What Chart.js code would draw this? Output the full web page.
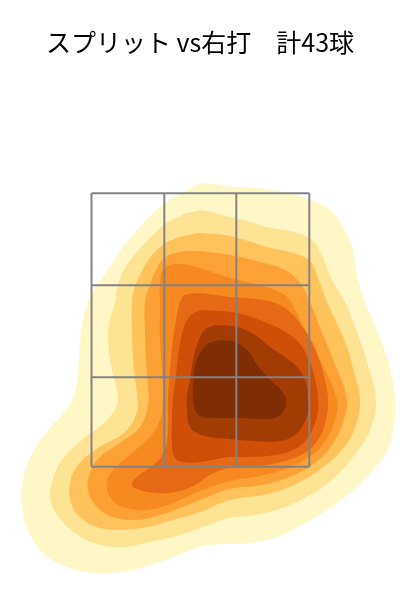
<!DOCTYPE html>
<html><head><meta charset="utf-8">
<script src="https://cdn.jsdelivr.net/npm/chart.js@4.4.1/dist/chart.umd.min.js"></script>
<style>html,body{margin:0;padding:0;background:#fff}</style>
</head><body>
<canvas id="c" width="400" height="600"></canvas>
<script>
const titleText = 'スプリット vs右打　計43球';

// density contour levels (outer -> inner), [horizontal, height]
const level1 = [[0.00,4.17],[0.15,4.16],[0.35,4.13],[0.57,4.12],[0.83,4.08],[1.10,4.00],[1.30,3.90],[1.43,3.73],[1.52,3.53],[1.57,3.25],[1.65,2.98],[1.78,2.67],[1.89,2.35],[1.95,2.00],[1.93,1.70],[1.86,1.47],[1.70,1.27],[1.50,1.07],[1.27,0.90],[1.00,0.74],[0.77,0.63],[0.50,0.57],[0.20,0.56],[0.00,0.53],[-0.27,0.43],[-0.50,0.35],[-0.80,0.28],[-1.07,0.27],[-1.33,0.33],[-1.57,0.47],[-1.72,0.70],[-1.78,0.97],[-1.77,1.20],[-1.67,1.48],[-1.50,1.72],[-1.34,1.90],[-1.26,2.05],[-1.22,2.28],[-1.20,2.57],[-1.17,2.80],[-1.12,2.98],[-1.03,3.15],[-0.90,3.33],[-0.77,3.53],[-0.60,3.73],[-0.40,3.93],[-0.18,4.07]];
const level2 = [[0.00,3.90],[0.15,3.87],[0.30,3.83],[0.50,3.78],[0.67,3.73],[0.97,3.67],[1.13,3.59],[1.23,3.42],[1.32,3.20],[1.45,2.98],[1.58,2.65],[1.68,2.35],[1.76,2.00],[1.70,1.70],[1.56,1.47],[1.36,1.24],[1.10,1.05],[0.82,0.92],[0.55,0.85],[0.30,0.82],[0.00,0.72],[-0.23,0.64],[-0.50,0.58],[-0.77,0.53],[-1.03,0.56],[-1.25,0.67],[-1.42,0.84],[-1.50,1.03],[-1.48,1.18],[-1.38,1.40],[-1.18,1.60],[-0.95,1.78],[-0.83,1.95],[-0.83,2.10],[-0.88,2.30],[-0.92,2.60],[-0.90,2.80],[-0.85,2.98],[-0.82,3.15],[-0.75,3.32],[-0.63,3.48],[-0.50,3.62],[-0.36,3.75],[-0.18,3.85]];
const level3 = [[0.00,3.67],[0.30,3.64],[0.67,3.53],[0.93,3.47],[1.10,3.39],[1.18,3.22],[1.27,2.98],[1.37,2.77],[1.47,2.53],[1.54,2.28],[1.60,2.00],[1.55,1.72],[1.42,1.50],[1.22,1.32],[0.98,1.17],[0.68,1.06],[0.30,1.00],[0.00,0.88],[-0.27,0.80],[-0.53,0.73],[-0.80,0.70],[-1.03,0.73],[-1.20,0.83],[-1.29,0.97],[-1.30,1.17],[-1.22,1.35],[-1.02,1.52],[-0.75,1.68],[-0.63,1.88],[-0.63,2.05],[-0.66,2.30],[-0.68,2.65],[-0.68,2.98],[-0.66,3.10],[-0.60,3.25],[-0.50,3.42],[-0.37,3.55],[-0.20,3.63]];
const level4 = [[0.00,3.49],[0.30,3.45],[0.60,3.38],[0.85,3.30],[1.00,3.17],[1.10,2.98],[1.21,2.70],[1.34,2.38],[1.47,2.00],[1.42,1.75],[1.32,1.55],[1.16,1.38],[0.92,1.24],[0.62,1.15],[0.30,1.11],[0.00,1.00],[-0.17,0.93],[-0.40,0.85],[-0.63,0.80],[-0.87,0.83],[-1.03,0.93],[-1.12,1.10],[-1.10,1.27],[-1.00,1.43],[-0.80,1.57],[-0.60,1.73],[-0.52,1.95],[-0.52,2.15],[-0.54,2.40],[-0.55,2.70],[-0.55,2.98],[-0.50,3.15],[-0.44,3.30],[-0.36,3.42],[-0.20,3.48]];
const level5 = [[0.00,3.32],[0.30,3.22],[0.55,3.16],[0.75,3.10],[0.88,3.02],[0.95,2.90],[1.05,2.70],[1.20,2.40],[1.37,2.00],[1.35,1.80],[1.26,1.60],[1.12,1.45],[0.90,1.33],[0.60,1.24],[0.30,1.19],[0.00,1.09],[-0.27,0.97],[-0.53,0.90],[-0.77,0.93],[-0.90,1.03],[-0.93,1.18],[-0.85,1.32],[-0.67,1.48],[-0.50,1.63],[-0.40,1.80],[-0.37,2.00],[-0.38,2.30],[-0.40,2.60],[-0.40,2.98],[-0.40,3.15],[-0.36,3.32],[-0.20,3.36]];
const level6 = [[0.00,3.07],[0.30,3.03],[0.55,3.01],[0.75,2.97],[0.90,2.88],[1.02,2.74],[1.12,2.58],[1.20,2.38],[1.26,2.15],[1.28,2.00],[1.26,1.80],[1.18,1.60],[1.06,1.48],[0.88,1.40],[0.60,1.34],[0.30,1.32],[0.10,1.25],[-0.05,1.15],[-0.25,1.08],[-0.45,1.07],[-0.60,1.10],[-0.68,1.15],[-0.62,1.24],[-0.48,1.34],[-0.36,1.48],[-0.32,1.70],[-0.32,2.00],[-0.30,2.30],[-0.27,2.60],[-0.22,2.90],[-0.19,3.00],[-0.15,3.05]];
const level7 = [[0.00,2.90],[0.37,2.87],[0.67,2.77],[0.87,2.67],[1.00,2.56],[1.08,2.42],[1.14,2.25],[1.18,2.00],[1.16,1.80],[1.06,1.60],[0.93,1.50],[0.75,1.45],[0.50,1.43],[0.30,1.43],[0.00,1.38],[-0.17,1.38],[-0.25,1.42],[-0.28,1.55],[-0.28,1.80],[-0.27,2.00],[-0.24,2.25],[-0.21,2.50],[-0.17,2.70],[-0.10,2.84]];
const level8 = [[0.15,2.75],[0.37,2.73],[0.55,2.65],[0.70,2.53],[0.85,2.43],[0.98,2.32],[1.06,2.17],[1.08,2.00],[1.08,1.87],[1.03,1.75],[0.95,1.65],[0.80,1.59],[0.55,1.59],[0.30,1.61],[0.10,1.63],[-0.03,1.67],[-0.11,1.75],[-0.13,1.90],[-0.13,2.05],[-0.10,2.20],[-0.07,2.40],[-0.02,2.58],[0.05,2.70]];
const level9 = [[0.20,2.60],[0.35,2.58],[0.47,2.50],[0.58,2.34],[0.70,2.20],[0.81,2.10],[0.86,2.00],[0.84,1.89],[0.75,1.82],[0.60,1.81],[0.40,1.82],[0.15,1.82],[0.00,1.84],[-0.06,1.94],[-0.07,2.12],[-0.06,2.30],[-0.01,2.45],[0.08,2.56]];

const levelColors = ['#fff7c6','#fee394','#fec35a','#fda035','#f6891f','#e66915','#cf4f07','#a33b05','#7f2d05'];

// strike zone grid edges
const zoneX = [-1.085, -0.357, 0.363, 1.093];
const zoneY = [1.333, 2.227, 3.147, 4.067];

const levels = [level1, level2, level3, level4, level5, level6, level7, level8, level9];
const toPts = arr => {
  const p = arr.map(([x, y]) => ({x, y}));
  p.push({x: arr[0][0], y: arr[0][1]});
  return p;
};
const datasets = levels.map((lv, i) => ({
  data: toPts(lv),
  showLine: true,
  fill: 'shape',
  backgroundColor: levelColors[i],
  borderColor: 'rgba(0,0,0,0)',
  borderWidth: 0,
  pointRadius: 0,
  tension: 0.4,
  order: 100 - i
}));
const gridStyle = {showLine: true, fill: false, borderColor: '#838383', borderWidth: 2, pointRadius: 0, tension: 0, order: 0};
zoneX.forEach(x => datasets.push(Object.assign({data: [{x, y: zoneY[0]}, {x, y: zoneY[zoneY.length - 1]}]}, gridStyle)));
zoneY.forEach(y => datasets.push(Object.assign({data: [{x: zoneX[0], y}, {x: zoneX[zoneX.length - 1], y}]}, gridStyle)));

new Chart(document.getElementById('c'), {
  type: 'scatter',
  data: {datasets},
  options: {
    responsive: false,
    animation: false,
    layout: {padding: 0},
    scales: {
      x: {type: 'linear', min: -2, max: 2, display: false},
      y: {type: 'linear', min: 0, max: 5, display: false}
    },
    plugins: {
      legend: {display: false},
      tooltip: {enabled: false},
      title: {
        display: true,
        text: titleText,
        color: '#000',
        font: {family: "'Noto Sans CJK JP', sans-serif", size: 25, weight: 'normal', lineHeight: 1.2},
        padding: {top: 27, bottom: 43}
      }
    }
  }
});
</script>
</body></html>
